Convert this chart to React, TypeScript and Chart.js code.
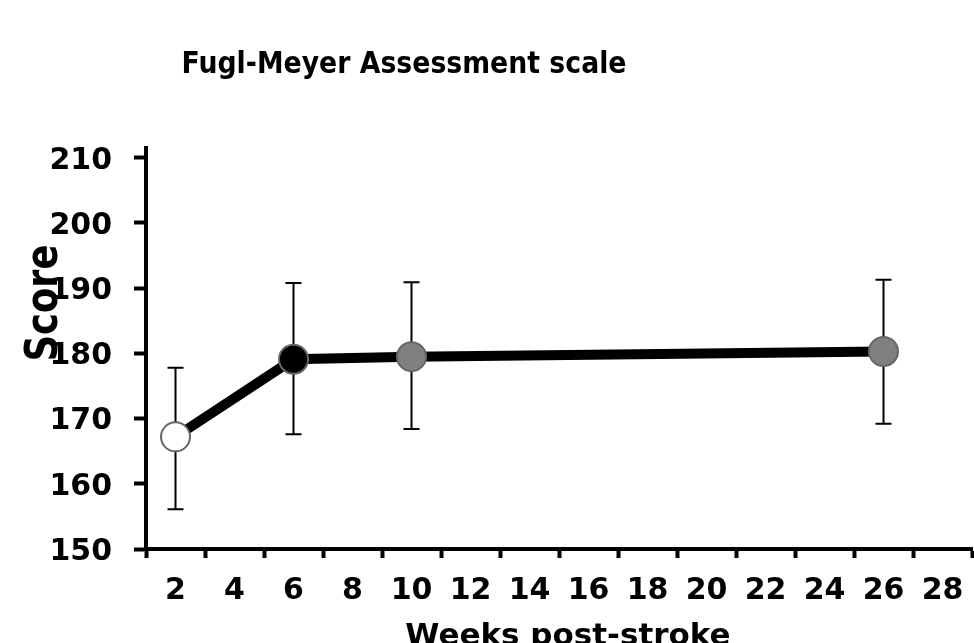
import React, { useEffect, useRef } from "react";
import { Chart, registerables } from "chart.js";

Chart.register(...registerables);

const titleText = "Fugl-Meyer Assessment scale";
const yTitle = "Score";
const xTitle = "Weeks post-stroke";

const weekLabels = ["2", "4", "6", "8", "10", "12", "14", "16", "18", "20", "22", "24", "26", "28"];
const measuredWeeks = ["2", "6", "10", "26"];
const means = [167.2, 179.1, 179.5, 180.3];
const upperBars = [177.8, 190.8, 190.9, 191.3];
const lowerBars = [156.1, 167.6, 168.4, 169.2];
const pointFills = ["#ffffff", "#000000", "#808080", "#808080"];
const yTicks = [150, 160, 170, 180, 190, 200, 210];

const FONT = "'DejaVu Sans', Verdana, sans-serif";

export default function App() {
  const ref = useRef<HTMLCanvasElement | null>(null);

  useEffect(() => {
    if (!ref.current) return;
    const data = weekLabels.map((w) => {
      const i = measuredWeeks.indexOf(w);
      return i >= 0 ? means[i] : null;
    });
    const fills = weekLabels.map((w) => {
      const i = measuredWeeks.indexOf(w);
      return i >= 0 ? pointFills[i] : "#000";
    });

    const errorBars = {
      id: "errorBars",
      beforeDatasetsDraw(chart: any) {
        const ctx = chart.ctx;
        const x = chart.scales.x;
        const y = chart.scales.y;
        ctx.save();
        ctx.strokeStyle = "#000";
        ctx.lineWidth = 2;
        measuredWeeks.forEach((w, i) => {
          const px = x.getPixelForValue(weekLabels.indexOf(w));
          const pt = y.getPixelForValue(upperBars[i]);
          const pb = y.getPixelForValue(lowerBars[i]);
          ctx.beginPath();
          ctx.moveTo(px, pt);
          ctx.lineTo(px, pb);
          ctx.moveTo(px - 8, pt);
          ctx.lineTo(px + 8, pt);
          ctx.moveTo(px - 8, pb);
          ctx.lineTo(px + 8, pb);
          ctx.stroke();
        });
        ctx.restore();
      },
    };

    const texts = {
      id: "texts",
      afterDraw(chart: any) {
        const ctx = chart.ctx;
        ctx.save();
        ctx.fillStyle = "#000";
        ctx.textAlign = "center";
        ctx.textBaseline = "alphabetic";
        ctx.font = `bold 31px ${FONT}`;
        ctx.fillText(titleText, 404, 73, 445);
        ctx.font = `bold 31px ${FONT}`;
        ctx.fillText(xTitle, 568, 645, 350);
        ctx.translate(57, 303);
        ctx.rotate(-Math.PI / 2);
        ctx.font = `bold 44px ${FONT}`;
        ctx.fillText(yTitle, 0, 0, 117);
        ctx.restore();
      },
    };

    const chart = new Chart(ref.current, {
      type: "line",
      data: {
        labels: weekLabels,
        datasets: [
          {
            data,
            spanGaps: true,
            borderColor: "#000",
            borderWidth: 10,
            pointRadius: 14.5,
            pointBackgroundColor: fills,
            pointBorderColor: "#666666",
            pointBorderWidth: 2,
            tension: 0,
            clip: false,
          },
        ],
      },
      options: {
        animation: false,
        responsive: true,
        maintainAspectRatio: false,
        layout: { autoPadding: false, padding: { top: 148, right: 2, left: 0, bottom: 0 } },
        plugins: { legend: { display: false }, tooltip: { enabled: false }, title: { display: false } },
        scales: {
          x: {
            type: "category",
            offset: true,
            grid: {
              offset: true,
              drawOnChartArea: false,
              drawTicks: true,
              tickLength: 9,
              tickWidth: 4,
              tickColor: "#000",
            },
            border: { display: true, color: "#000", width: 4 },
            ticks: {
              color: "#000",
              font: { family: FONT, size: 30, weight: "bold" },
              padding: 15,
              maxRotation: 0,
              autoSkip: false,
            },
            afterFit: (s: any) => {
              s.height = 94;
              s.paddingLeft = 0;
              s.paddingRight = 0;
            },
          },
          y: {
            min: 150,
            max: 211.5,
            afterBuildTicks: (s: any) => {
              s.ticks = yTicks.map((v) => ({ value: v }));
            },
            grid: {
              drawOnChartArea: false,
              drawTicks: true,
              tickLength: 12,
              tickWidth: 4,
              tickColor: "#000",
            },
            border: { display: true, color: "#000", width: 4 },
            ticks: {
              color: "#000",
              font: { family: FONT, size: 30, weight: "bold" },
              padding: 22,
              labelOffset: 3,
            },
            afterFit: (s: any) => {
              s.width = 146;
              s.paddingTop = 0;
              s.paddingBottom = 0;
            },
          },
        },
      },
      plugins: [errorBars, texts],
    });
    return () => chart.destroy();
  }, []);

  return (
    <div style={{ position: "absolute", left: 0, top: 0, width: 974, height: 643, background: "#fff" }}>
      <canvas ref={ref} />
    </div>
  );
}
